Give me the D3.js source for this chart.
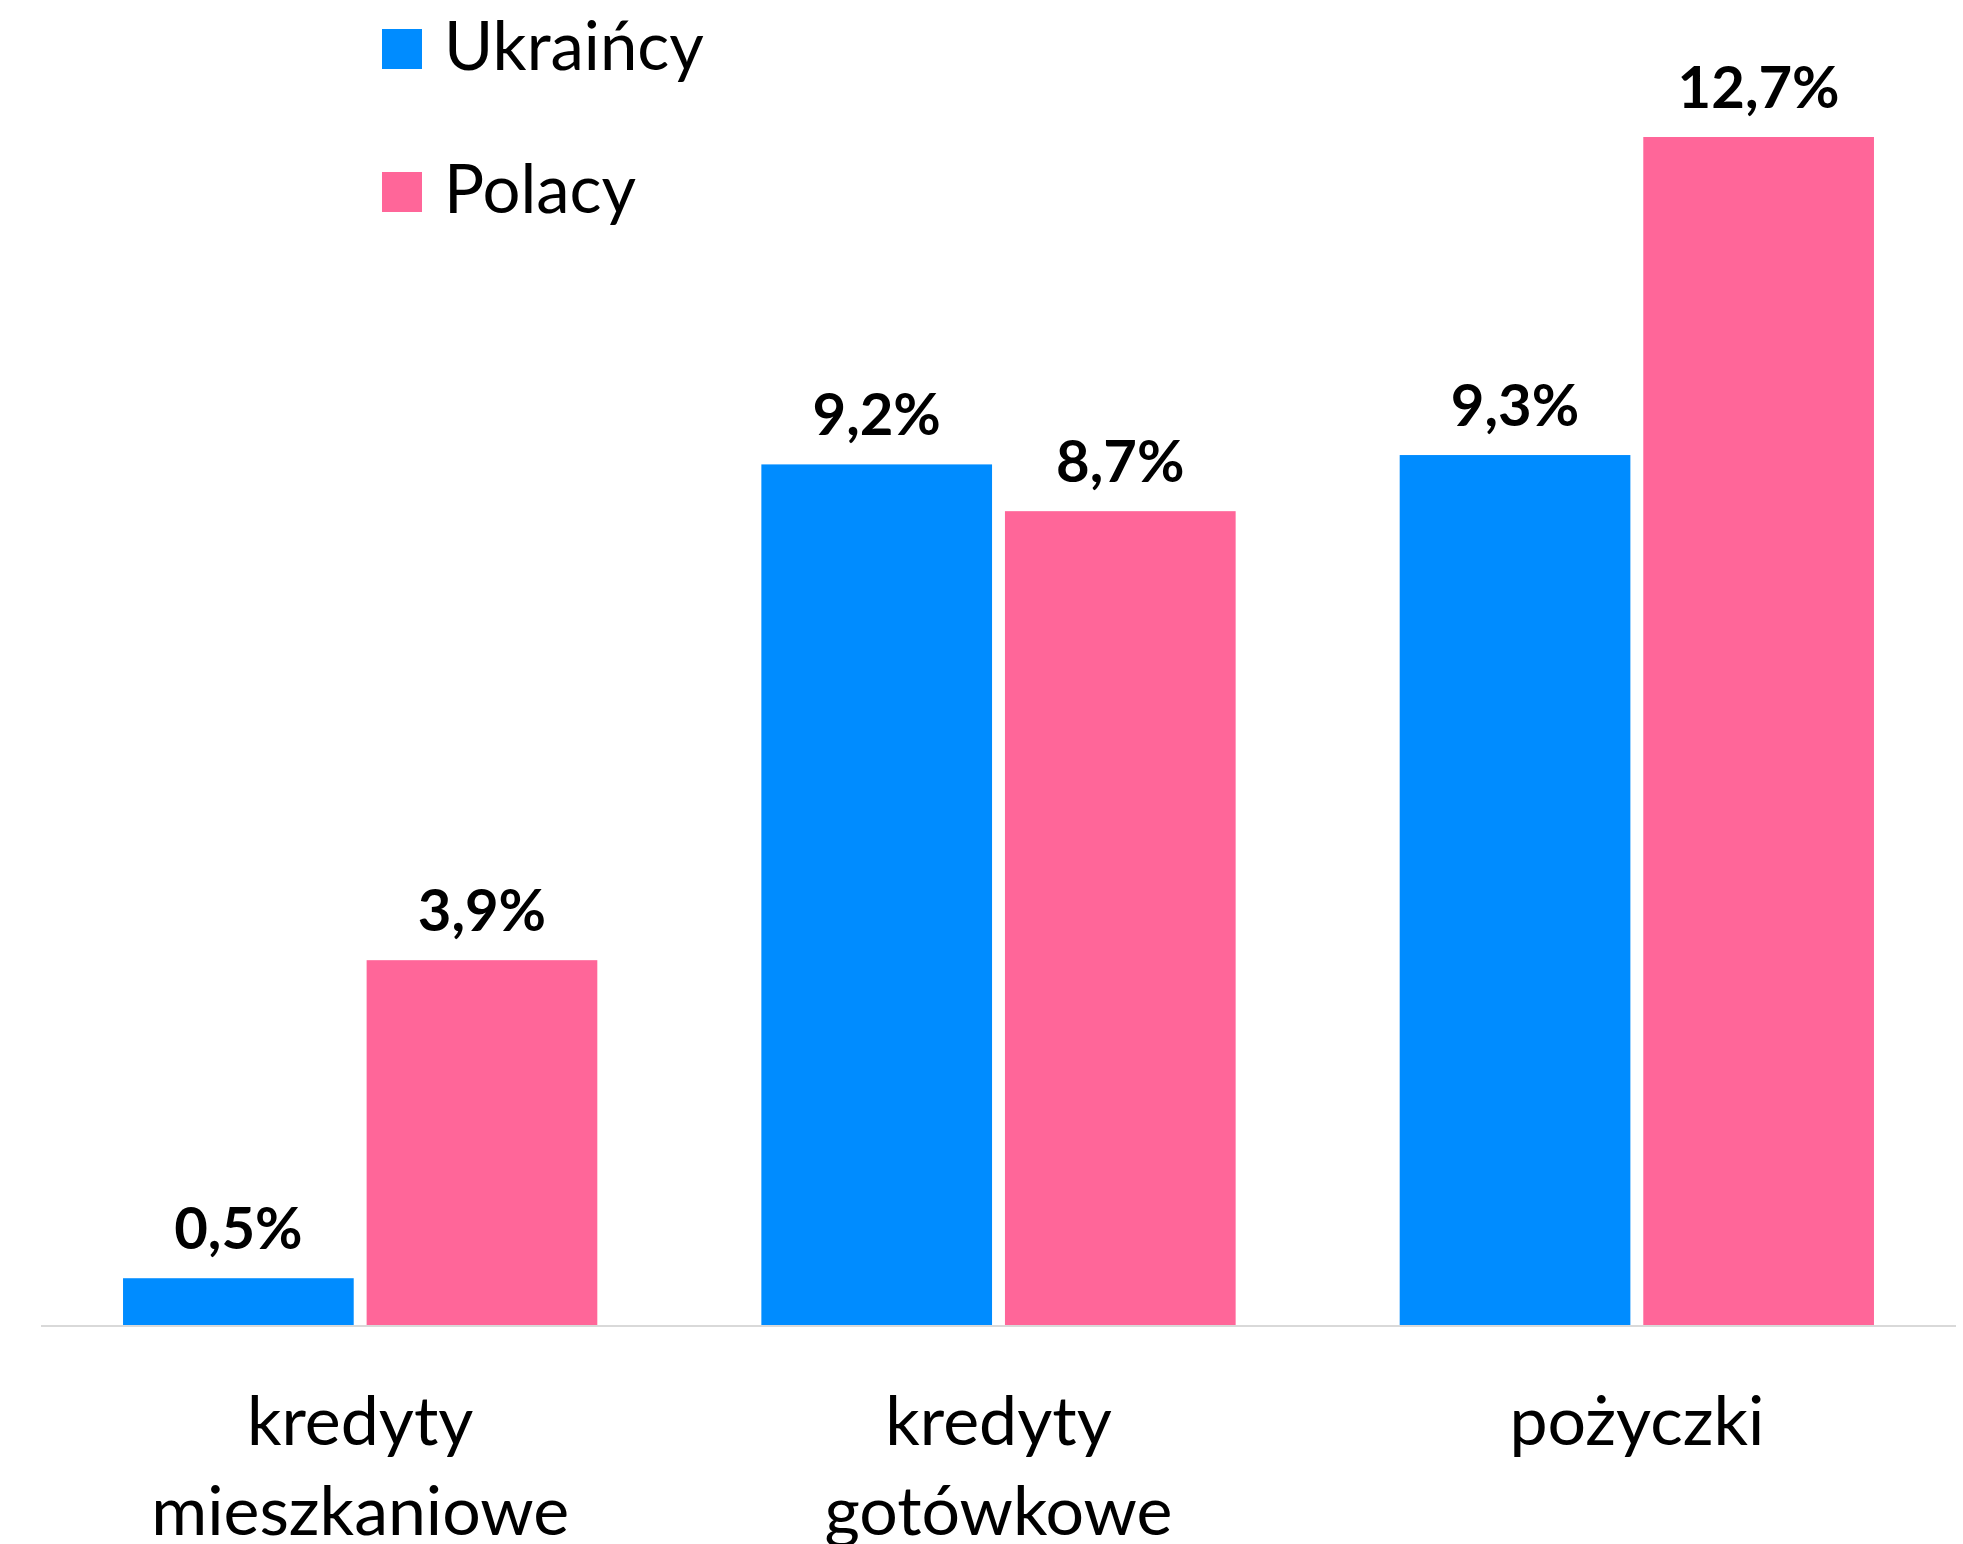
<!DOCTYPE html>
<html>
<head>
<meta charset="utf-8">
<script src="https://cdn.jsdelivr.net/npm/d3@7"></script>
<style>
  body { margin: 0; background: #fff; }
  svg text { font-family: Lato, "Open Sans", sans-serif; }
</style>
</head>
<body>
<div id="Chart"></div>
<script>
// data
var categories = [["kredyty", "mieszkaniowe"], ["kredyty", "gotówkowe"], ["pożyczki"]];
var seriesNames = ["Ukraińcy", "Polacy"];
var seriesColors = ["#008cff", "#ff6699"];
var ukraincy = [0.5, 9.2, 9.3];
var polacy = [3.9, 8.7, 12.7];

var width = 1963, height = 1544;
var baseY = 1325;

var svg = d3.select("#Chart")
    .append("svg")
    .attr("width", width)
    .attr("height", height)
    .attr("class", "chart");

var keys = categories.map(function(c) { return c.join(" "); });
var rows = keys.map(function(k, i) {
    return {cat: k, lines: categories[i], values: [ukraincy[i], polacy[i]]};
});

var x0 = d3.scaleBand().domain(keys).range([41, 1956])
    .paddingInner(0.257).paddingOuter(0.1285);
var x1 = d3.scaleBand().domain(seriesNames).range([0, x0.bandwidth()])
    .paddingInner(0.053).paddingOuter(0);
var y = d3.scaleLinear().domain([0, 12.7]).range([baseY, 137]);

var fmt = function(v) { return d3.format(".1f")(v).replace(".", ",") + "%"; };

// bars
var groups = svg.selectAll(".group")
    .data(rows)
    .enter().append("g")
    .attr("class", "group")
    .attr("transform", function(d) { return "translate(" + x0(d.cat) + ",0)"; });

groups.selectAll("rect")
    .data(function(d) { return d.values.map(function(v, i) { return {s: seriesNames[i], v: v, i: i}; }); })
    .enter().append("rect")
    .attr("x", function(d) { return x1(d.s); })
    .attr("y", function(d) { return y(d.v); })
    .attr("width", x1.bandwidth())
    .attr("height", function(d) { return baseY - y(d.v); })
    .attr("fill", function(d) { return seriesColors[d.i]; });

// value labels
groups.selectAll("text.val")
    .data(function(d) { return d.values.map(function(v, i) { return {s: seriesNames[i], v: v}; }); })
    .enter().append("text")
    .attr("class", "val")
    .attr("x", function(d) { return x1(d.s) + x1.bandwidth() / 2; })
    .attr("y", function(d) { return y(d.v) - 29; })
    .attr("text-anchor", "middle")
    .style("font-size", "58px")
    .style("font-weight", "bold")
    .style("fill", "#000")
    .text(function(d) { return fmt(d.v); });

// x axis line
svg.append("line")
    .attr("x1", x0.range()[0]).attr("x2", x0.range()[1])
    .attr("y1", baseY + 1).attr("y2", baseY + 1)
    .attr("stroke", "#d9d9d9")
    .attr("stroke-width", 2);

// category labels (second line runs off the bottom, as in the original)
var catLabels = svg.selectAll("text.cat")
    .data(rows)
    .enter().append("text")
    .attr("class", "cat")
    .attr("x", function(d) { return x0(d.cat) + x0.bandwidth() / 2; })
    .attr("y", 1445)
    .attr("text-anchor", "middle")
    .style("font-size", "68px")
    .style("fill", "#000");
catLabels.selectAll("tspan")
    .data(function(d) { return d.lines; })
    .enter().append("tspan")
    .attr("x", function() { var p = d3.select(this.parentNode).datum(); return x0(p.cat) + x0.bandwidth() / 2; })
    .attr("dy", function(d, i) { return i === 0 ? 0 : 90; })
    .text(function(d) { return d; });

// legend
var legend = svg.selectAll(".legend")
    .data(seriesNames)
    .enter().append("g")
    .attr("class", "legend")
    .attr("transform", function(d, i) { return "translate(382," + (70 + i * 143) + ")"; });
legend.append("rect")
    .attr("x", 0).attr("y", -41)
    .attr("width", 40).attr("height", 40)
    .attr("fill", function(d, i) { return seriesColors[i]; });
legend.append("text")
    .attr("x", 62).attr("y", 0)
    .style("font-size", "67px")
    .style("fill", "#000")
    .text(function(d) { return d; });
</script>
</body>
</html>
